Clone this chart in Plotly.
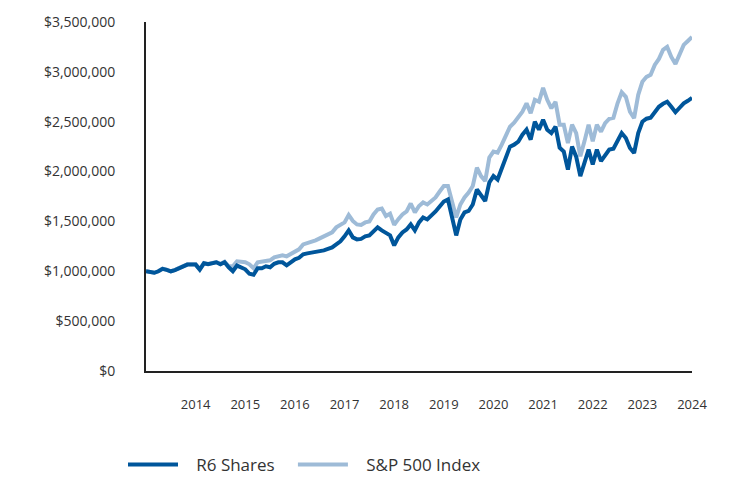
import plotly.graph_objects as go

# Growth of $1,000,000 (values in $ millions), monthly
r6_shares = [
    1.00, 0.99, 0.985, 1.00, 1.024, 1.014, 1.00, 1.012, 1.03, 1.05, 1.067, 1.068,
    1.067, 1.017, 1.08, 1.07, 1.08, 1.09, 1.07, 1.09, 1.04, 1.00, 1.057, 1.04,
    1.02, 0.975, 0.965, 1.03, 1.03, 1.05, 1.04, 1.075, 1.09, 1.09, 1.06, 1.09,
    1.12, 1.135, 1.17, 1.18, 1.185, 1.195, 1.20, 1.21, 1.225, 1.24, 1.27, 1.30,
    1.35, 1.41, 1.34, 1.32, 1.325, 1.35, 1.36, 1.40, 1.44, 1.41, 1.38, 1.36,
    1.26, 1.34, 1.39, 1.42, 1.47, 1.41, 1.49, 1.54, 1.52, 1.555, 1.60, 1.65,
    1.70, 1.72, 1.55, 1.36, 1.52, 1.59, 1.605, 1.67, 1.82, 1.77, 1.705, 1.89,
    1.955, 1.92, 2.04, 2.14, 2.25, 2.27, 2.30, 2.37, 2.42, 2.32, 2.50, 2.42,
    2.52, 2.42, 2.386, 2.45, 2.24, 2.20, 2.02, 2.25, 2.15, 1.955, 2.087, 2.22,
    2.07, 2.22, 2.104, 2.17, 2.22, 2.23, 2.32, 2.386, 2.336, 2.236, 2.186, 2.386,
    2.50, 2.53, 2.54, 2.60, 2.65, 2.68, 2.70, 2.65, 2.595, 2.64, 2.685, 2.71,
    2.74,
]
sp500_index = [
    1.00, 0.99, 0.985, 1.00, 1.026, 1.016, 1.00, 1.014, 1.032, 1.052, 1.07, 1.07,
    1.07, 1.02, 1.083, 1.073, 1.083, 1.093, 1.075, 1.095, 1.05, 1.05, 1.10, 1.10,
    1.09, 1.07, 1.03, 1.09, 1.10, 1.10, 1.11, 1.14, 1.155, 1.16, 1.15, 1.17,
    1.20, 1.22, 1.27, 1.28, 1.30, 1.31, 1.33, 1.35, 1.37, 1.39, 1.44, 1.465,
    1.49, 1.565, 1.505, 1.47, 1.465, 1.49, 1.50, 1.57, 1.62, 1.63, 1.555, 1.578,
    1.466, 1.523, 1.57, 1.60, 1.68, 1.59, 1.655, 1.69, 1.67, 1.705, 1.74, 1.80,
    1.855, 1.855, 1.705, 1.54, 1.67, 1.74, 1.79, 1.855, 2.04, 1.955, 1.905, 2.14,
    2.20, 2.19, 2.27, 2.35, 2.45, 2.49, 2.55, 2.60, 2.685, 2.585, 2.72, 2.70,
    2.84, 2.72, 2.635, 2.70, 2.47, 2.47, 2.285, 2.47, 2.386, 2.153, 2.303, 2.47,
    2.303, 2.47, 2.40, 2.486, 2.53, 2.54, 2.685, 2.795, 2.75, 2.60, 2.535, 2.77,
    2.90, 2.95, 2.97, 3.07, 3.13, 3.22, 3.25, 3.15, 3.08, 3.18, 3.27, 3.31,
    3.35,
]
start_year = 2013
end_year = 2024
tick_years = list(range(2014, 2025))
y_ticks = [0, 500000, 1000000, 1500000, 2000000, 2500000, 3000000, 3500000]
series_names = ["R6 Shares", "S&P 500 Index"]

n = len(r6_shares)
x_vals = [start_year + i * (end_year - start_year) / (n - 1) for i in range(n)]

DARK = "#00569B"
LIGHT = "#9EBBD7"
FONT = "Open Sans"
GAP = "\u00a0\u00a0\u00a0"
TAIL = "\u00a0\u00a0\u00a0"

fig = go.Figure()
fig.add_trace(go.Scatter(
    x=x_vals, y=[v * 1e6 for v in sp500_index], mode="lines",
    name=GAP + series_names[1], line=dict(color=LIGHT, width=4),
))
fig.add_trace(go.Scatter(
    x=x_vals, y=[v * 1e6 for v in r6_shares], mode="lines",
    name=GAP + series_names[0] + TAIL, line=dict(color=DARK, width=4),
))

fig.update_layout(
    width=732, height=480,
    margin=dict(l=146, r=40, t=20, b=109),
    plot_bgcolor="white", paper_bgcolor="white",
    font=dict(family=FONT, color="#333333", size=13),
    showlegend=True,
    legend=dict(
        orientation="h", traceorder="reversed",
        yref="container", xref="container",
        x=123 / 732, xanchor="left", y=(480 - 465) / 480, yanchor="middle",
        font=dict(size=17, color="#333333"),
        itemwidth=50,
        bgcolor="rgba(0,0,0,0)",
    ),
    xaxis=dict(
        range=[start_year, end_year], tickvals=tick_years,
        ticktext=[str(t) for t in tick_years],
        showgrid=False, zeroline=False,
        showline=True, linecolor="#222222", linewidth=2,
        ticks="", ticklabelstandoff=20,
        tickfont=dict(size=13, color="#333333"),
    ),
    yaxis=dict(
        range=[0, 3500000], tickvals=y_ticks,
        ticktext=["$" + format(v, ",") for v in y_ticks],
        showgrid=False, zeroline=False,
        showline=True, linecolor="#222222", linewidth=2,
        ticks="", ticklabelstandoff=26,
        tickfont=dict(size=14, color="#333333"),
    ),
)

fig.write_html("out.html")
